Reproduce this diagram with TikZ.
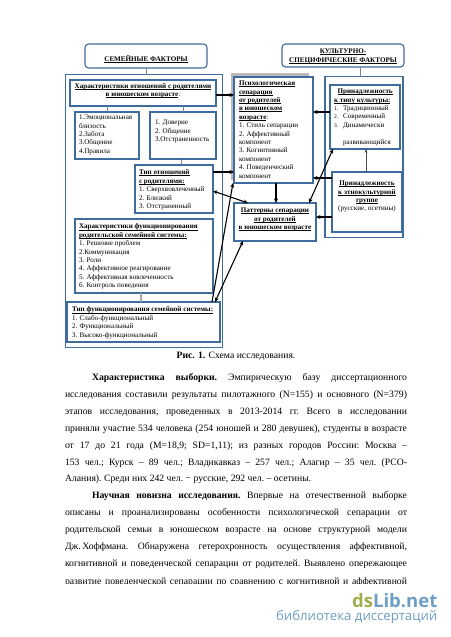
\documentclass[tikz,border=0pt]{standalone}
\usepackage{fontspec}
\setmainfont{Liberation Serif}
\newfontfamily\wmfont{Open Sans}
\usetikzlibrary{arrows.meta,calc}
\definecolor{boxblue}{HTML}{3F6C9F}
\definecolor{thinline}{HTML}{75858F}
\definecolor{wmolive}{HTML}{A2AE4E}
\definecolor{wmblue}{HTML}{6E9EC6}
\newsavebox\ulbox
\newcommand\ulb[1]{\sbox\ulbox{\textbf{#1}}\leavevmode\rlap{\rule[-1.1pt]{\wd\ulbox}{0.5pt}}\usebox\ulbox}
\newcommand\bx[9][]{%
  \pgfmathsetmacro\bw{#5-#3}\pgfmathsetmacro\bh{#6-#4}%
  \node[boxs,#1,anchor=north west] (#2) at (#3,#4) {\parbox[c][\bh pt][t]{\bw pt}{%
    \fontsize{7.1}{8.4}\selectfont\lineskiplimit=-5pt\leftskip=#8pt\rightskip=0pt plus 1fil\parindent=0pt\vspace*{#7pt}#9}};}
\newcommand\cbx[9][]{%
  \pgfmathsetmacro\bw{#5-#3}\pgfmathsetmacro\bh{#6-#4}%
  \node[boxs,#1,anchor=north west] (#2) at (#3,#4) {\parbox[c][\bh pt][t]{\bw pt}{%
    \fontsize{7.1}{8.4}\selectfont\lineskiplimit=-5pt\centering\vspace*{#7pt}#9}};}
\newcommand\jl[4]{\node[bodyt,anchor=base west] (#1) at (#2,#3) {\frenchspacing\makebox[\dimexpr407pt-#2pt\relax][s]{#4}};}
\newcommand\nl[4]{\node[bodyt,anchor=base west] (#1) at (#2,#3) {\frenchspacing #4};}
\tikzset{
  x=1pt,y=-1pt,
  boxs/.style={draw=boxblue,line width=1.1pt,inner sep=0pt,outer sep=0pt,fill=white},
  roundb/.style={rounded corners=3.5pt},
  outerb/.style={fill=none},
  thinl/.style={draw=thinline,line width=0.6pt},
  greyl/.style={draw=gray!70,line width=1.1pt},
  arr/.style={draw=black,line width=1.1pt,-{Stealth[length=4.5pt,width=4pt]}},
  darr/.style={draw=black,line width=1.1pt,{Stealth[length=4.5pt,width=4pt]}-{Stealth[length=4.5pt,width=4pt]}},
  tharr/.style={draw=thinline!60!black,line width=0.7pt,-{Stealth[length=3.5pt,width=3pt]}},
  bodyt/.style={inner sep=0pt,outer sep=0pt,font=\fontsize{9.7}{12}\selectfont},
}
\begin{document}
\begin{tikzpicture}
\useasboundingbox[fill=white] (0,0) rectangle (450,637);
% outer frames
\node[boxs,outerb,anchor=north west,minimum width=157pt,minimum height=273pt] (outl) at (65.5,74.5) {};
\node[boxs,outerb,anchor=north west,minimum width=78pt,minimum height=161pt] (outr) at (325,76.5) {};
% titles
\cbx[roundb]{sem}{85}{44}{207}{68}{11}{0}{\ulb{СЕМЕЙНЫЕ ФАКТОРЫ}}
\cbx[roundb]{kul}{282}{44}{404}{67}{5}{0}{\ulb{КУЛЬТУРНО-}\\\ulb{СПЕЦИФИЧЕСКИЕ ФАКТОРЫ}}
% left column
\cbx{hx}{70}{80}{216}{106}{3.5}{0}{\ulb{Характеристики отношений с родителями}\\\ulb{в юношеском возрасте}:}
\bx{ba}{75}{112}{139}{159}{3}{4}{1.Эмоциональная\\близость\\2.Забота\\3.Общение\\4.Правила}
\bx{bb}{150}{112}{216}{159}{8}{5}{1. Доверие\\2. Общение\\3.Отстраненность}
\bx{ot}{135}{165}{213}{213}{5}{4}{\ulb{Тип отношений}\\\ulb{с родителями:}\\1. Сверхвовлеченный\\2. Близкий\\3. Отстраненный}
\bx{fn}{75}{219}{213}{293}{5}{4}{\ulb{Характеристики функционирования}\\\ulb{родительской семейной системы:}\\1. Решение проблем\\2.Коммуникация\\3. Роли\\4. Аффективное реагирование\\5. Аффективная вовлеченность\\6. Контроль поведения}
\bx{tf}{67}{302}{220}{342}{5}{5}{\ulb{Тип функционирования семейной системы:}\\1. Слабо-функциональный\\2. Функциональный\\3. Высоко-функциональный}
% centre
\fill[gray!55] (231,73) rectangle (309,180) coordinate (shadowc);
\bx{psy}{234}{77}{313}{183}{4}{5}{\ulb{Психологическая}\\\ulb{сепарация}\\\ulb{от родителей}\\\ulb{в юношеском}\\\ulb{возрасте}:\\1. Стиль сепарации\\2. Аффективный\\компонент\\3. Когнитивный\\компонент\\4. Поведенческий\\компонент}
\cbx{pat}{234}{203}{316}{241}{5}{0}{\ulb{Паттерны сепарации}\\\ulb{от родителей}\\\ulb{в юношеском возрасте}}
% right column
\bx{typ}{330}{85}{400}{149}{4}{4}{\hfil\ulb{Принадлежность}\hfil\\\hfil\ulb{к типу культуры:}\hfil\\{\fontsize{5.5}{8.4}\selectfont 1.}\hspace{5pt}Традиционный\\{\fontsize{5.5}{8.4}\selectfont 2.}\hspace{5pt}Современный\\{\fontsize{5.5}{8.4}\selectfont 3.}\hspace{5pt}Динамически\\\phantom{x}\\\hspace*{9pt}развивающийся}
\cbx{et}{332}{172}{402}{232}{9}{0}{\ulb{Принадлежность}\\\ulb{к этнокультурной}\\\ulb{группе}\\(русские, осетины)}
% thin connectors
\draw[thinl] (sem.south) -- (outl.north -| sem.south);
\draw[thinl] (kul.south -| 360,0) -- (outr.north -| 360,0);
\draw[thinl] (hx.south -| ba.north) -- (ba.north);
\draw[thinl] (hx.south -| bb.north) -- (bb.north);
\draw[thinl] (bb.south -| 181,0) -- (ot.north -| 181,0);
\draw[greyl] (fn.south -| 141,0) -- (tf.north -| 141,0);
\draw[tharr] (et.north -| 366,0) -- (typ.south -| 366,0);
% arrows
\draw[arr] (hx.east |- 0,95) -- (psy.west |- 0,95);
\draw[arr] (ot.east |- 0,172) -- (psy.west |- 0,172);
\draw[arr] (typ.west |- 0,112) -- (psy.east |- 0,112);
\draw[arr] (et.west |- 0,178) -- (psy.east |- 0,178);
\draw[arr] (psy.south -| 276,0) -- (pat.north -| 276,0);
\draw[arr] (et.west |- 0,217) -- (pat.east |- 0,217);
\draw[darr] (typ.south west) ++(3,0) coordinate (tq) (tq) -- (pat.north -| 309,0);
\draw[darr] (ot.east |- 0,191) -- (pat.north -| 248,0);
\draw[arr] (tf.north -| 212,0) -- (psy.south -| 233,0);
\draw[darr] (tf.north -| 215,0) -- (pat.south -| 243,0);
% caption and text
\node[bodyt,anchor=base] (cap) at (236,358) {\textbf{Рис. 1.} Схема исследования.};
\jl{t1}{92}{380}{\textbf{Характеристика выборки.} Эмпирическую базу диссертационного}
\jl{t2}{65}{397}{исследования составили результаты пилотажного (N=155) и основного (N=379)}
\jl{t3}{65}{414}{этапов исследования, проведенных в 2013-2014 гг. Всего в исследовании}
\jl{t4}{65}{431}{приняли участие 534 человека (254 юношей и 280 девушек), студенты в возрасте}
\jl{t5}{65}{448}{от 17 до 21 года (М=18,9; SD=1,11); из разных городов России: Москва –}
\jl{t6}{65}{465}{153 чел.; Курск – 89 чел.; Владикавказ – 257 чел.; Алагир – 35 чел. (РСО-}
\nl{t7}{65}{481.5}{Алания). Среди них 242 чел. − русские, 292 чел. – осетины.}
\jl{t8}{92}{498.5}{\textbf{Научная новизна исследования.} Впервые на отечественной выборке}
\jl{t9}{65}{515.5}{описаны и проанализированы особенности психологической сепарации от}
\jl{t10}{65}{532.5}{родительской семьи в юношеском возрасте на основе структурной модели}
\jl{t11}{65}{549.5}{Дж.\,Хоффмана. Обнаружена гетерохронность осуществления аффективной,}
\jl{t12}{65}{566.5}{когнитивной и поведенческой сепарации от родителей. Выявлено опережающее}
\begin{scope}
\clip (0,570) rectangle (450,583);
\jl{t13}{65}{584}{развитие поведенческой сепарации по сравнению с когнитивной и аффективной}
\end{scope}
% watermark
\node[inner sep=0pt,anchor=base east,font=\wmfont\bfseries\fontsize{18.5}{20}\selectfont] (wma) at (437.5,607) {\textcolor{wmolive}{ds}\textcolor{wmblue}{Lib.net}};
\node[inner sep=0pt,anchor=base east,font=\wmfont\fontsize{13.2}{14}\selectfont,text=wmblue] (wmb) at (437.5,620.5) {библиотека диссертаций};
\end{tikzpicture}
\end{document}
